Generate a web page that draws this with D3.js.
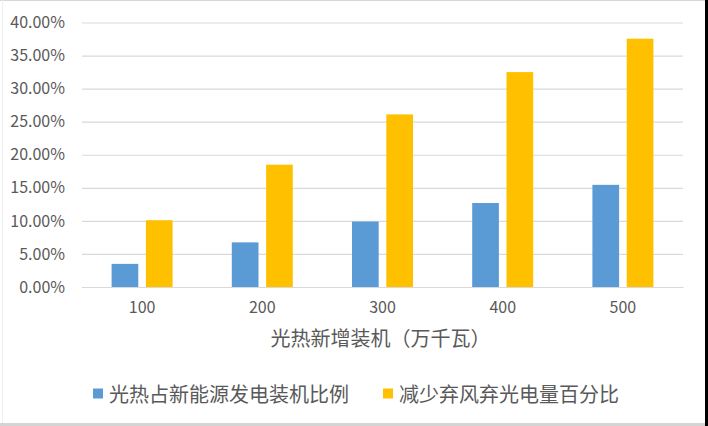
<!DOCTYPE html>
<html>
<head>
<meta charset="utf-8">
<script src="https://cdn.jsdelivr.net/npm/d3@7"></script>
<style>
  html, body { margin: 0; padding: 0; background: #ffffff; }
  svg { display: block; }
  text { font-family: "Noto Sans CJK SC", "Noto Sans", sans-serif; fill: #595959; }
</style>
</head>
<body>
<svg id="chart" width="708" height="426"></svg>
<script>
// ---- data ----
const categories = ["100", "200", "300", "400", "500"];
const seriesNames = ["光热占新能源发电装机比例", "减少弃风弃光电量百分比"];
const seriesColors = ["#5B9BD5", "#FFC000"];
const shareOfNewEnergy = [0.035, 0.0675, 0.099, 0.127, 0.1545];
const curtailmentReduction = [0.101, 0.185, 0.261, 0.325, 0.3755];
const yTicks = [0, 0.05, 0.10, 0.15, 0.20, 0.25, 0.30, 0.35, 0.40];
const xAxisTitle = "光热新增装机（万千瓦）";

const seriesValues = [shareOfNewEnergy, curtailmentReduction];

const W = 708, H = 426;
const plot = { left: 82, right: 683, top: 22.5, bottom: 287 };

const svg = d3.select("#chart");

// frame edges like the reference screenshot
svg.append("rect").attr("x", 0).attr("y", 0).attr("width", W).attr("height", H).attr("fill", "#ffffff");
svg.append("line").attr("x1", 0).attr("x2", W).attr("y1", 0.5).attr("y2", 0.5).attr("stroke", "#d6d6d6");
svg.append("line").attr("x1", 2.5).attr("x2", 2.5).attr("y1", 0).attr("y2", H).attr("stroke", "#efefef");
svg.append("rect").attr("x", 0).attr("y", 423).attr("width", W).attr("height", 3).attr("fill", "#d4d4d4");
svg.append("rect").attr("x", 705).attr("y", 0).attr("width", 3).attr("height", H).attr("fill", "#000000");

// scales
const x0 = d3.scaleBand().domain(categories).range([plot.left, plot.right]).paddingInner(0).paddingOuter(0);
const bw = x0.bandwidth();
const x1 = d3.scaleBand().domain(d3.range(seriesNames.length))
  .range([bw / 2 - 30.5, bw / 2 + 30.5]).paddingInner(0.222).paddingOuter(0);
const y = d3.scaleLinear().domain([0, 0.40]).range([plot.bottom, plot.top]);

// gridlines
const yAxis = d3.axisLeft(y).tickValues(yTicks).tickFormat(d3.format(".2%"))
  .tickSize(-(plot.right - plot.left)).tickPadding(17);
const gy = svg.append("g").attr("transform", `translate(${plot.left},0)`).call(yAxis);
gy.select(".domain").remove();
gy.selectAll(".tick line").attr("stroke", "#D9D9D9").attr("stroke-width", 1.2);
gy.selectAll(".tick text").attr("font-size", 16).attr("fill", "#5f5f5f")
  .style("font-family", '"Noto Sans CJK SC", sans-serif');

// bars
const groups = svg.append("g").selectAll("g")
  .data(categories)
  .join("g")
  .attr("transform", d => `translate(${x0(d)},0)`);

groups.selectAll("rect")
  .data((d, i) => seriesValues.map((vals, s) => ({ s, v: vals[i] })))
  .join("rect")
  .attr("x", d => x1(d.s))
  .attr("width", x1.bandwidth())
  .attr("y", d => y(d.v))
  .attr("height", d => y(0) - y(d.v))
  .attr("fill", d => seriesColors[d.s]);

// x axis
const xAxis = d3.axisBottom(x0).tickSize(0).tickPadding(15);
const gx = svg.append("g").attr("transform", `translate(0,${plot.bottom})`).call(xAxis);
gx.select(".domain").attr("stroke", "#D9D9D9").attr("stroke-width", 1.2);
gx.selectAll(".tick text").attr("font-size", 16).attr("fill", "#5f5f5f")
  .style("font-family", '"Noto Sans CJK SC", sans-serif');

// axis title
svg.append("text")
  .attr("x", (plot.left + plot.right) / 2 - 2)
  .attr("y", 337)
  .attr("text-anchor", "middle")
  .attr("dominant-baseline", "central")
  .attr("font-size", 20)
  .attr("fill", "#5f5f5f")
  .text(xAxisTitle);

// legend
const legendX = [93, 383];
const legend = svg.append("g").selectAll("g")
  .data(seriesNames)
  .join("g")
  .attr("transform", (d, i) => `translate(${legendX[i]},393.5)`);
legend.append("rect")
  .attr("x", 0).attr("y", -5).attr("width", 10).attr("height", 10)
  .attr("fill", (d, i) => seriesColors[i]);
legend.append("text")
  .attr("x", 16).attr("y", 0)
  .attr("dominant-baseline", "central")
  .attr("font-size", 20)
  .attr("fill", "#5f5f5f")
  .text(d => d);
</script>
</body>
</html>
